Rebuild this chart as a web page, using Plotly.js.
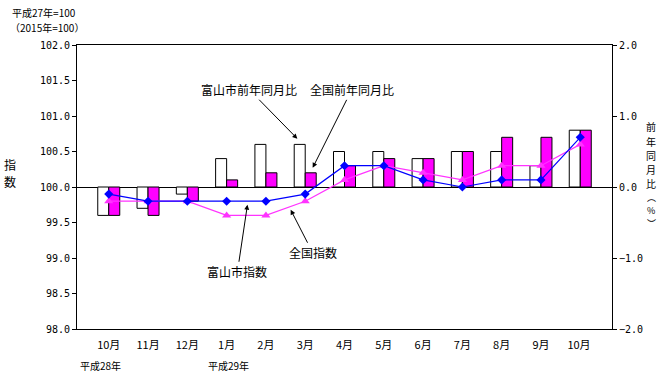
<!DOCTYPE html>
<html><head><meta charset="utf-8">
<script src="https://cdn.plot.ly/plotly-3.0.1.min.js"></script>
<style>html,body{margin:0;padding:0;background:#fff;}#chart{width:663px;height:377px;}</style>
</head><body><div id="chart"></div>
<script>
const months = ['10月','11月','12月','1月','2月','3月','4月','5月','6月','7月','8月','9月','10月 '];
const toyamaYoY = [-0.4,-0.3,-0.1,0.4,0.6,0.6,0.5,0.5,0.4,0.5,0.5,0.3,0.8];
const nationalYoY = [-0.4,-0.4,-0.2,0.1,0.2,0.2,0.3,0.4,0.4,0.5,0.7,0.7,0.8];
const toyamaIndex = [99.9,99.8,99.8,99.8,99.8,99.9,100.3,100.3,100.1,100.0,100.1,100.1,100.7];
const nationalIndex = [99.8,99.8,99.8,99.6,99.6,99.8,100.1,100.3,100.2,100.1,100.3,100.3,100.6];
const leftTicks = [98.0,98.5,99.0,99.5,100.0,100.5,101.0,101.5,102.0];
const rightTicks = [-2.0,-1.0,0.0,1.0,2.0];
const leftTitleChars = ['指','数'];
const rightTitleChars = ['前','年','同','月','比','︵','%','︶'];

const jp = 'Noto Sans CJK JP';
const mono = 'DejaVu Sans Mono';

const traces = [
  {type:'bar', x:months, y:toyamaYoY, yaxis:'y', marker:{color:'#ffffff', line:{color:'#000', width:1}}, name:'富山市前年同月比'},
  {type:'bar', x:months, y:nationalYoY, yaxis:'y', marker:{color:'#ff00ff', line:{color:'#000', width:1}}, name:'全国前年同月比'},
  {type:'scatter', mode:'lines+markers', x:months, y:nationalIndex, yaxis:'y2', line:{color:'#ff33ff', width:1.2}, marker:{symbol:'triangle-up', size:8, color:'#ff33ff'}, name:'全国指数'},
  {type:'scatter', mode:'lines+markers', x:months, y:toyamaIndex, yaxis:'y2', line:{color:'#0000ff', width:1.2}, marker:{symbol:'diamond', size:7, color:'#0000ff'}, name:'富山市指数'}
];

function px2paperX(p){return (p-77)/535;}
function px2paperY(p){return (329-p)/284;}

const annotations = [
  {text:'平成27年=100', xref:'paper', yref:'paper', x:px2paperX(10), y:px2paperY(12), xanchor:'left', yanchor:'middle', showarrow:false, font:{family:jp, size:10, color:'#000'}},
  {text:'（2015年=100）', xref:'paper', yref:'paper', x:px2paperX(8), y:px2paperY(27), xanchor:'left', yanchor:'middle', showarrow:false, font:{family:jp, size:10, color:'#000'}},
  {text:'平成28年', xref:'paper', yref:'paper', x:px2paperX(100), y:px2paperY(365), xanchor:'center', yanchor:'middle', showarrow:false, font:{family:jp, size:10, color:'#000'}},
  {text:'平成29年', xref:'paper', yref:'paper', x:px2paperX(228), y:px2paperY(365), xanchor:'center', yanchor:'middle', showarrow:false, font:{family:jp, size:10, color:'#000'}},
  {text:'富山市前年同月比', xref:'x', yref:'y', x:4.8, y:0.68, ax:-48, ay:-49, showarrow:true, arrowhead:2, arrowsize:1, arrowwidth:1, arrowcolor:'#000', font:{family:jp, size:12, color:'#000'}},
  {text:'全国前年同月比', xref:'x', yref:'y', x:5.19, y:0.27, ax:39, ay:-78, showarrow:true, arrowhead:2, arrowsize:1, arrowwidth:1, arrowcolor:'#000', font:{family:jp, size:12, color:'#000'}},
  {text:'富山市指数', xref:'x', yref:'y', x:3.53, y:-0.25, ax:-10, ay:67, showarrow:true, arrowhead:2, arrowsize:1, arrowwidth:1, arrowcolor:'#000', font:{family:jp, size:12, color:'#000'}},
  {text:'全国指数', xref:'x', yref:'y', x:4.63, y:-0.32, ax:22, ay:43, showarrow:true, arrowhead:2, arrowsize:1, arrowwidth:1, arrowcolor:'#000', font:{family:jp, size:12, color:'#000'}}
];
leftTitleChars.forEach((c,i)=>{
  annotations.push({text:c, xref:'paper', yref:'paper', x:px2paperX(10), y:px2paperY(164 + i*17), xanchor:'center', yanchor:'middle',
    showarrow:false, borderpad:0, font:{family:jp, size:12, color:'#000'}});
});
const rightY = [127,141,155,169,183,197,210,223];
rightTitleChars.forEach((c,i)=>{
  annotations.push({text:c, xref:'paper', yref:'paper', x:px2paperX(651), y:px2paperY(rightY[i]), xanchor:'center', yanchor:'middle',
    showarrow:false, borderpad:0, font:{family:jp, size:i>=5?9:10, color:'#000'}});
});

const layout = {
  width:663, height:377,
  margin:{l:77, r:51, t:45, b:48},
  paper_bgcolor:'#fff', plot_bgcolor:'#fff',
  showlegend:false,
  barmode:'group', bargap:0.44, bargroupgap:0,
  hovermode:false,
  font:{family:jp, size:11, color:'#000'},
  xaxis:{type:'category', showline:true, linecolor:'#000', linewidth:1, mirror:true, ticks:'', showgrid:false, zeroline:false,
         tickfont:{family:jp, size:11, color:'#000'}, ticklabelstandoff:6},
  yaxis:{side:'right', range:[-2,2], tickvals:rightTicks, tickformat:'.1f', showline:true, linecolor:'#000', linewidth:1,
         ticks:'outside', ticklen:4, tickcolor:'#000', showgrid:false, zeroline:true, zerolinecolor:'#000', zerolinewidth:1,
         tickfont:{family:mono, size:10, color:'#000'}},
  yaxis2:{side:'left', overlaying:'y', range:[98,102], tickvals:leftTicks, tickformat:'.1f', showline:true, linecolor:'#000', linewidth:1,
          ticks:'outside', ticklen:4, tickcolor:'#000', showgrid:false, zeroline:false,
          tickfont:{family:mono, size:10, color:'#000'}},
  annotations:annotations
};

Plotly.newPlot('chart', traces, layout, {staticPlot:true, displayModeBar:false});
</script>
</body></html>
